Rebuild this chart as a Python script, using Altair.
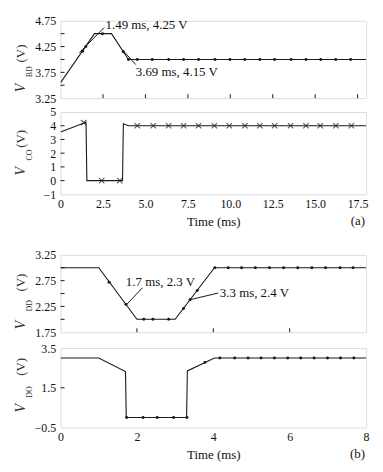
import altair as alt
import pandas as pd

FONT = "'Liberation Serif', 'Times New Roman', 'DejaVu Serif', serif"
LINE = "#1a1a1a"

# ---------------- (a) upper panel: V_BD ----------------
a1_t = [0.0, 2.0, 3.0, 4.0, 18.0]
a1_v = [3.55, 4.5, 4.5, 4.0, 4.0]
a1_mt = [1.3, 1.49, 2.47, 3.69, 4.0, 4.52, 5.4, 6.37, 7.25, 8.13, 9.1, 9.98,
         10.86, 11.74, 12.61, 13.58, 14.46, 15.33, 16.21, 17.09]
a1_mv = [4.16, 4.25, 4.5, 4.15, 4.0, 4.0, 4.0, 4.0, 4.0, 4.0, 4.0, 4.0,
         4.0, 4.0, 4.0, 4.0, 4.0, 4.0, 4.0, 4.0]
a1_txt = ["1.49 ms, 4.25 V", "3.69 ms, 4.15 V"]
a1_tx = [2.65, 4.43]
a1_tv = [4.67, 3.76]
a1_l_t = [1.11, 3.64]
a1_l_v = [4.13, 4.19]
a1_l_t2 = [2.57, 4.43]
a1_l_v2 = [4.62, 3.9]

# ---------------- (a) lower panel: V_CO ----------------
a2_t = [0.0, 1.5, 1.55, 3.65, 3.7, 4.0, 18.0]
a2_v = [3.55, 4.25, 0.0, 0.0, 4.15, 4.0, 4.0]
a2_mt = [1.36, 2.42, 3.49, 4.52, 5.46, 6.37, 7.25, 8.13, 9.06, 9.94, 10.86,
         11.74, 12.61, 13.55, 14.46, 15.3, 16.22, 17.13]
a2_mv = [4.22, 0.0, 0.0, 4.0, 4.0, 4.0, 4.0, 4.0, 4.0, 4.0, 4.0,
         4.0, 4.0, 4.0, 4.0, 4.0, 4.0, 4.0]

# ---------------- (b) upper panel: V_DD ----------------
b1_t = [0.0, 1.0, 2.0, 3.0, 4.03, 8.0]
b1_v = [3.0, 3.0, 2.0, 2.0, 3.0, 3.0]
b1_mt = [1.27, 1.71, 2.18, 2.42, 2.83, 3.22, 3.39, 3.58, 4.04, 4.39, 4.74,
         5.1, 5.47, 5.84, 6.21, 6.58, 6.94, 7.32, 7.66]
b1_mv = [2.72, 2.29, 2.0, 2.0, 2.0, 2.21, 2.38, 2.56, 3.0, 3.0, 3.0,
         3.0, 3.0, 3.0, 3.0, 3.0, 3.0, 3.0, 3.0]
b1_txt = ["1.7 ms, 2.3 V", "3.3 ms, 2.4 V"]
b1_tx = [1.71, 4.17]
b1_tv = [2.73, 2.51]
b1_l_t = [1.71, 3.39]
b1_l_v = [2.27, 2.38]
b1_l_t2 = [2.14, 4.13]
b1_l_v2 = [2.61, 2.51]

# ---------------- (b) lower panel: V_DO ----------------
b2_t = [0.0, 1.0, 1.7, 1.72, 3.3, 3.32, 4.03, 8.0]
b2_v = [3.0, 3.0, 2.32, 0.0, 0.0, 2.35, 3.0, 3.0]
b2_mt = [1.73, 2.16, 2.53, 2.96, 3.31, 3.78, 4.17, 4.56, 4.91, 5.25, 5.6,
         5.95, 6.29, 6.64, 6.99, 7.33, 7.68]
b2_mv = [0.0, 0.0, 0.0, 0.0, 0.0, 2.78, 3.0, 3.0, 3.0, 3.0, 3.0,
         3.0, 3.0, 3.0, 3.0, 3.0, 3.0]

# axis ticks / labels
a_xlabels = [0, 2.5, 5.0, 7.5, 10.0, 12.5, 15.0, 17.5]
a_xinner = [2.5, 5.0, 7.5, 10.0, 12.5, 15.0, 17.5]
a1_ylabels = [3.25, 3.75, 4.25, 4.75]
a1_yinner = [3.5, 3.75, 4.0, 4.25, 4.5]
a2_ylabels = [-1, 0, 1, 2, 3, 4, 5]
a2_yinner = [0, 1, 2, 3, 4]
b_xlabels = [0, 2, 4, 6, 8]
b_xinner = [2, 4, 6]
b1_ylabels = [1.75, 2.25, 2.75, 3.25]
b1_yinner = [2.0, 2.25, 2.5, 2.75, 3.0]
b2_ylabels = [-0.5, 1.5, 3.5]
b2_yinner = [1.5]

W = 308


def panel(H, xdom, ydom, line_t, line_v, mt, mv, marker, ylabels, yfmt, yinner,
          xinner, xlabels, sub, ypos, ann=None, tag=None):
    xaxis = alt.Axis(
        values=xlabels if xlabels else [], labels=bool(xlabels), ticks=False,
        tickSize=0, domain=False, grid=False, labelFlush=False, labelOverlap=False,
        labelFont=FONT, labelFontSize=12, labelColor="#111", labelPadding=4,
        labelExpr="datum.value == 0 ? '0' : format(datum.value, '%s')" % (".1f" if xdom[1] > 10 else "d"),
        title="Time (ms)" if xlabels else None, titleFont=FONT, titleFontSize=13,
        titleFontWeight="normal", titleColor="#111", titlePadding=6,
    )
    yaxis = alt.Axis(
        values=ylabels, ticks=False, tickSize=0, domain=False, grid=False,
        labelFlush=False, labelOverlap=False, labelFont=FONT, labelFontSize=12,
        labelColor="#111", labelPadding=5, title=None,
        labelExpr="replace(format(datum.value, '%s'), '-', '\u2212')" % yfmt,
    )
    X = lambda f: alt.X(f, type="quantitative", scale=alt.Scale(domain=xdom, nice=False, zero=False), axis=xaxis)
    Y = lambda f: alt.Y(f, type="quantitative", scale=alt.Scale(domain=ydom, nice=False, zero=False), axis=yaxis)

    ldf = pd.DataFrame({"t": line_t, "v": line_v, "i": list(range(len(line_t)))})
    layers = [
        alt.Chart(ldf).mark_line(color=LINE, strokeWidth=1.1, clip=True).encode(
            x=X("t"), y=Y("v"), order=alt.Order("i:Q"))
    ]
    mdf = pd.DataFrame({"t": mt, "v": mv})
    if marker == "x":
        layers.append(alt.Chart(mdf).mark_point(
            shape="M-1,-1L1,1M-1,1L1,-1", size=30, filled=False, color=LINE,
            strokeWidth=1.1).encode(x=X("t"), y=Y("v")))
    else:
        layers.append(alt.Chart(mdf).mark_circle(size=9, color=LINE, opacity=1).encode(
            x=X("t"), y=Y("v")))
    # inner ticks
    layers.append(alt.Chart(pd.DataFrame({"v": yinner})).mark_rule(color=LINE, strokeWidth=1).encode(
        y=Y("v"), x=alt.value(0), x2=alt.value(4)))
    if xinner:
        layers.append(alt.Chart(pd.DataFrame({"t": xinner})).mark_rule(color=LINE, strokeWidth=1).encode(
            x=X("t"), y=alt.value(H), y2=alt.value(H - 4)))
    # annotations
    if ann:
        txt, tx, tv, lt, lv, lt2, lv2 = ann
        layers.append(alt.Chart(pd.DataFrame({"t": lt, "v": lv, "t2": lt2, "v2": lv2})).mark_rule(
            color=LINE, strokeWidth=1).encode(x=X("t"), y=Y("v"), x2="t2", y2="v2"))
        layers.append(alt.Chart(pd.DataFrame({"t": tx, "v": tv, "s": txt})).mark_text(
            align="left", baseline="middle", font=FONT, fontSize=13, color="#111").encode(
            x=X("t"), y=Y("v"), text="s:N"))
    # y title: V_sub (V)
    one = pd.DataFrame({"k": [0]})
    yV, ySub, yP = ypos
    layers.append(alt.Chart(one).mark_text(text="V", angle=270, align="left", baseline="alphabetic",
                                           font=FONT, fontSize=14, fontStyle="italic", color="#333").encode(
        x=alt.value(-36), y=alt.value(yV)))
    layers.append(alt.Chart(one).mark_text(text=sub, angle=270, align="left", baseline="alphabetic",
                                           font=FONT, fontSize=8, color="#333").encode(
        x=alt.value(-28.5), y=alt.value(ySub)))
    layers.append(alt.Chart(one).mark_text(text="(V)", angle=270, align="left", baseline="alphabetic",
                                           font=FONT, fontSize=13, color="#333").encode(
        x=alt.value(-36), y=alt.value(yP)))
    if tag:
        layers.append(alt.Chart(one).mark_text(text=tag, align="right", baseline="alphabetic",
                                               font=FONT, fontSize=13, color="#111").encode(
            x=alt.value(W - 1), y=alt.value(H + 31)))
    return alt.layer(*layers).properties(width=W, height=H)


p1 = panel(78, [0, 18], [3.25, 4.75], a1_t, a1_v, a1_mt, a1_mv, "dot",
           a1_ylabels, ".2f", a1_yinner, a_xinner, None, "BD", (72, 57, 42),
           ann=(a1_txt, a1_tx, a1_tv, a1_l_t, a1_l_v, a1_l_t2, a1_l_v2))
p2 = panel(83, [0, 18], [-1, 5], a2_t, a2_v, a2_mt, a2_mv, "x",
           a2_ylabels, "d", a2_yinner, None, a_xlabels, "CO", (64, 49, 36), tag="(a)")
p3 = panel(78, [0, 8], [1.75, 3.25], b1_t, b1_v, b1_mt, b1_mv, "dot",
           b1_ylabels, ".2f", b1_yinner, b_xinner, None, "DD", (75, 57, 37),
           ann=(b1_txt, b1_tx, b1_tv, b1_l_t, b1_l_v, b1_l_t2, b1_l_v2))
p4 = panel(80, [0, 8], [-0.5, 3.5], b2_t, b2_v, b2_mt, b2_mv, "dot",
           b2_ylabels, ".1f", b2_yinner, None, b_xlabels, "DO", (65, 50, 28), tag="(b)")

sec_a = alt.vconcat(p1, p2, spacing=0)
sec_b = alt.vconcat(p3, p4, spacing=2)
chart = alt.vconcat(sec_a, sec_b, spacing=19).properties(
    padding={"left": 5, "top": 4, "right": 5, "bottom": 2}
).configure_view(stroke="#111", strokeWidth=1.2).configure(background="white")

chart.save("out.html", embed_options={"renderer": "svg", "actions": False})
